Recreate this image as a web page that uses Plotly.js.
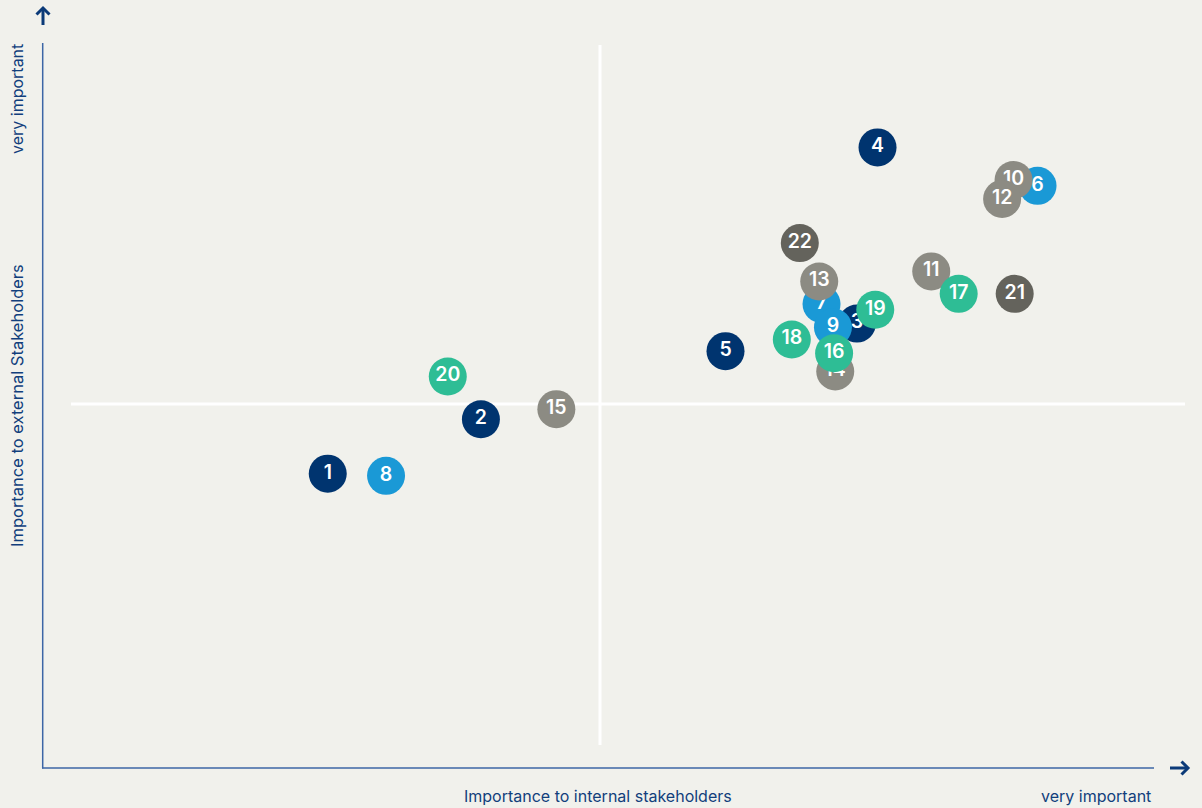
<!DOCTYPE html>
<html>
<head>
<meta charset="utf-8">
<script src="https://cdn.plot.ly/plotly-3.0.1.min.js"></script>
<style>
html,body{margin:0;padding:0;background:#f1f1ec;}
#chart{width:1202px;height:808px;}
</style>
</head>
<body>
<div id="chart"></div>
<script>
// Topic numbers
const labels = ["1","2","3","4","5","6","7","8","9","10","11","12","13","14","15","16","17","18","19","20","21","22"];
// Importance to internal stakeholders (x, 0-10 scale)
const internal = [2.50,3.84,7.13,7.31,5.98,8.71,6.82,3.01,6.92,8.50,7.78,8.40,6.80,6.94,4.50,6.93,8.02,6.56,7.29,3.55,8.51,6.63];
// Importance to external stakeholders (y, 0-10 scale)
const external = [4.06,4.81,6.13,8.56,5.75,8.03,6.40,4.03,6.08,8.11,6.85,7.85,6.71,5.47,4.95,5.72,6.54,5.91,6.32,5.40,6.54,7.24];
// Group of each topic
const groups = ["navy","navy","navy","navy","navy","blue","blue","blue","blue","grey","grey","grey","grey","grey","grey","teal","teal","teal","teal","teal","dark","dark"];
const groupColors = {navy:"#00346f", blue:"#1a99d6", grey:"#8c8b83", teal:"#2ebd95", dark:"#64635c"};

const traces = labels.map((lab, i) => ({
  type: "scatter",
  mode: "markers+text",
  x: [internal[i]],
  y: [external[i]],
  text: [lab],
  textposition: "middle center",
  textfont: {family: "Inter, 'Open Sans', sans-serif", size: 19.5, color: "#ffffff", weight: 600},
  marker: {size: 38, color: groupColors[groups[i]], line: {width: 0}},
  hoverinfo: "skip",
  showlegend: false,
  cliponaxis: false
}));

const navy = "#0b3a78";
const axisCol = "#3c66a6";
const txtFont = {family: "Inter, 'Liberation Sans', sans-serif", size: 16, color: "#123f7c"};
const rotFont = {family: "Inter, 'Liberation Sans', sans-serif", size: 16.5, color: "#123f7c"};

// paper mapping: plot area x 42..1185, y 43..768
const W = 1143, H = 725;
const px = v => (v - 42) / W;
const py = v => (768 - v) / H;
const seg = (x0, y0, x1, y1, col, w) => ({type: "line", xref: "paper", yref: "paper", x0: px(x0), x1: px(x1), y0: py(y0), y1: py(y1), line: {color: col, width: w}, layer: "below"});

const layout = {
  width: 1202, height: 808,
  margin: {l: 42, r: 17, t: 43, b: 40},
  paper_bgcolor: "#f1f1ec",
  plot_bgcolor: "rgba(0,0,0,0)",
  xaxis: {range: [0, 10], visible: false, fixedrange: true},
  yaxis: {range: [0, 10], visible: false, fixedrange: true},
  showlegend: false,
  shapes: [
    seg(600, 45, 600, 745, "#ffffff", 3),
    seg(71, 404, 1185, 404, "#ffffff", 3),
    seg(42.7, 43, 42.7, 768.5, axisCol, 1.5),
    seg(42, 768, 1154, 768, axisCol, 1.5),
    // up arrow
    seg(43, 25, 43, 8, navy, 3),
    {type: "path", xref: "paper", yref: "paper", path: `M ${px(36.5)} ${py(14.5)} L ${px(43)} ${py(8)} L ${px(49.5)} ${py(14.5)}`, line: {color: navy, width: 3}, layer: "below"},
    // right arrow
    seg(1170, 768, 1188, 768, navy, 3),
    {type: "path", xref: "paper", yref: "paper", path: `M ${px(1181.5)} ${py(761.5)} L ${px(1188)} ${py(768)} L ${px(1181.5)} ${py(774.5)}`, line: {color: navy, width: 3}, layer: "below"}
  ],
  annotations: [
    {xref: "paper", yref: "paper", x: px(597.5), y: py(796), text: "Importance to internal stakeholders", showarrow: false, xanchor: "center", yanchor: "middle", font: txtFont},
    {xref: "paper", yref: "paper", x: px(1153), y: py(796), text: "very important", showarrow: false, xanchor: "right", yanchor: "middle", font: txtFont},
    {xref: "paper", yref: "paper", x: px(17), y: py(406), text: "Importance to external Stakeholders", showarrow: false, textangle: -90, xanchor: "center", yanchor: "middle", font: rotFont},
    {xref: "paper", yref: "paper", x: px(17), y: py(99), text: "very important", showarrow: false, textangle: -90, xanchor: "center", yanchor: "middle", font: txtFont}
  ]
};

Plotly.newPlot("chart", traces, layout, {displayModeBar: false, staticPlot: true});
</script>
</body>
</html>
